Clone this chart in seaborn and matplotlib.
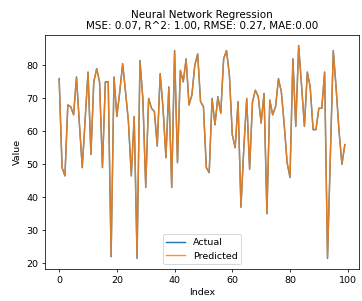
import pandas as pd
import matplotlib.pyplot as plt
import seaborn as sns

# values
actual = [76, 49, 46.5, 68, 67.5, 65, 76.5, 62.5, 49, 63.5,
          78, 53, 75, 79, 75, 49, 75, 75, 22, 76.5,
          64.5, 72, 80.5, 72, 63, 46.5, 64.5, 21.5, 81.5, 70,
          43, 70, 67, 66, 55.5, 77.5, 67, 52, 73.5, 43,
          84.5, 50.5, 78.5, 75, 82, 68, 71, 80, 83.5, 69,
          67.5, 49, 47.5, 70, 62, 70.5, 65.5, 82, 84.5, 77,
          59, 55, 69, 37, 55, 70, 48.5, 69, 72.5, 70.5,
          62.5, 71.5, 35, 69.5, 65, 67.5, 76, 72, 62, 50.5,
          46, 82, 61.5, 86, 74, 61.5, 78, 73.5, 60.5, 60.5,
          67, 67, 78, 21.5, 53, 84.5, 73, 60, 50, 56]
predicted = [75.8, 49.1, 46.6, 68.1, 67.4, 65.1, 76.3, 62.5, 49.2, 63.5,
             77.8, 53.1, 75, 78.9, 75, 49.1, 74.8, 74.9, 22.2, 76.4,
             64.6, 72, 80.4, 72, 63, 46.7, 64.5, 21.7, 81.3, 70,
             43.2, 69.9, 67, 66, 55.6, 77.3, 67, 52.1, 73.3, 43.1,
             84.3, 50.6, 78.4, 75, 81.8, 68, 71, 80, 83.4, 69,
             67.5, 49.1, 47.7, 69.8, 62, 70.3, 65.5, 81.9, 84.4, 77,
             59, 55.1, 68.8, 37.2, 55, 69.9, 48.6, 69, 72.4, 70.5,
             62.5, 71.4, 35.2, 69.4, 65, 67.5, 75.8, 72, 62, 50.6,
             46.2, 81.8, 61.6, 85.8, 74, 61.6, 77.8, 73.4, 60.7, 60.6,
             67, 67, 77.8, 21.7, 53, 84.3, 73, 60, 50.1, 55.9]

df = pd.DataFrame({"Index": range(len(actual)), "Actual": actual, "Predicted": predicted})

fig, ax = plt.subplots(figsize=(362 / 68, 301 / 68), dpi=68)
fig.subplots_adjust(left=0.124, right=0.992, top=0.884, bottom=0.106)

sns.lineplot(data=df, x="Index", y="Actual", label="Actual", color="#1f77b4", ax=ax)
sns.lineplot(data=df, x="Index", y="Predicted", label="Predicted", color="#ff7f0e", alpha=0.85, ax=ax)

ax.set_title("Neural Network Regression\nMSE: 0.07, R^2: 1.00, RMSE: 0.27, MAE:0.00", fontsize=11)
ax.set_xlabel("Index")
ax.set_ylabel("Value")
ax.legend(loc="lower center")

plt.savefig("out.png", dpi=68)
